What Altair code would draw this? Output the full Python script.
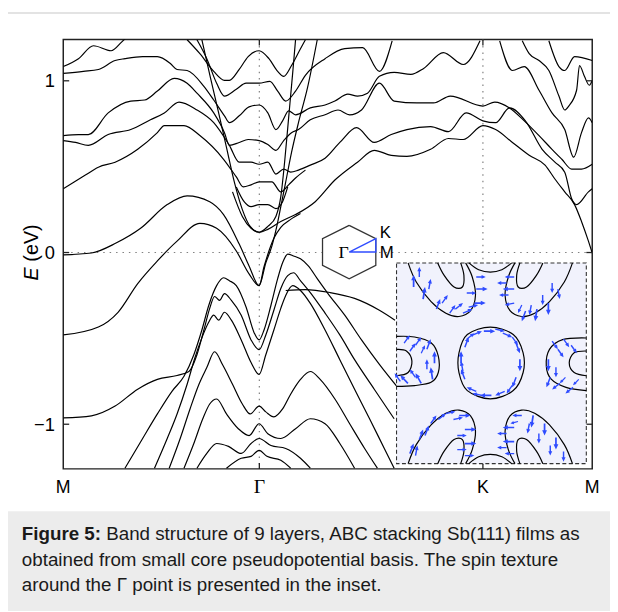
import math
import altair as alt
import pandas as pd

# ---------------- axis content ----------------
K_TICKS = [0.0, 0.877, 1.877, 2.366]          # M, Gamma, K, M along the path (|GK| = 1)
K_NAMES = ["M", "Γ", "K", "M"]
E_TICKS = [-1, 0, 1]
K_DOMAIN = [0.0, 2.366]
E_DOMAIN = [-1.26, 1.24]
DOT_E = [0.0]
DOT_K = [0.877, 1.877]
YLABEL = ["E", "(eV)"]
CAPTION_BOLD = "Figure 5:"
CAPTION_LINES = [
    "Band structure of 9 layers, ABC stacking Sb(111) films as",
    "obtained from small core pseudopotential basis. The spin texture",
    "around the Γ point is presented in the inset.",
]

# ---------------- bands (k, E[eV]) ----------------
BAND_U1 = [(0, 1.083), (0.068, 1.129), (0.135, 1.204), (0.214, 1.175), (0.262, 1.227), (0.307, 1.284)]
BAND_U2 = [(0, 1.043), (0.090, 1.055), (0.157, 1.066), (0.232, 1.118), (0.276, 1.129), (0.355, 1.141),
           (0.421, 1.141), (0.479, 1.101), (0.509, 1.066), (0.554, 1.060), (0.629, 0.968), (0.673, 0.888),
           (0.721, 0.796), (0.743, 0.756), (0.787, 0.796), (0.831, 0.848), (0.876, 0.859), (0.915, 0.813),
           (0.951, 0.716), (0.981, 0.767), (1.008, 0.825), (1.039, 0.802), (1.105, 0.842), (1.171, 0.859),
           (1.215, 0.882), (1.273, 0.922), (1.316, 0.911), (1.361, 0.928), (1.414, 1.026), (1.480, 1.049),
           (1.555, 1.037), (1.612, 1.072), (1.700, 1.164), (1.789, 1.095), (1.864, 1.233)]
BAND_U3 = [(0, 0.681), (0.068, 0.687), (0.112, 0.687), (0.201, 0.813), (0.302, 0.882), (0.364, 0.888),
           (0.421, 0.940), (0.496, 1.014), (0.554, 0.986), (0.598, 0.928), (0.673, 0.813), (0.721, 0.698),
           (0.743, 0.624), (0.787, 0.641), (0.827, 0.658), (0.876, 0.652), (0.915, 0.629), (0.951, 0.595),
           (0.986, 0.652), (1.021, 0.698), (1.052, 0.716), (1.105, 0.773), (1.171, 0.802), (1.229, 0.830),
           (1.281, 0.802), (1.334, 0.830), (1.414, 0.986), (1.480, 0.882), (1.582, 0.871), (1.656, 0.871),
           (1.731, 0.911), (1.877, 0.853), (1.930, 0.876), (1.996, 0.842), (2.062, 0.767), (2.128, 0.681),
           (2.186, 0.601), (2.230, 0.543), (2.274, 0.486), (2.318, 0.486), (2.366, 0.514)]
BAND_U4 = [(0, 0.652), (0.055, 0.641), (0.112, 0.624), (0.201, 0.687), (0.302, 0.716), (0.390, 0.773),
           (0.452, 0.813), (0.518, 0.876), (0.598, 0.830), (0.673, 0.756), (0.743, 0.624), (0.787, 0.526),
           (0.840, 0.526), (0.876, 0.514), (0.915, 0.526), (0.951, 0.457), (0.986, 0.486), (1.017, 0.468),
           (1.052, 0.480), (1.105, 0.509), (1.171, 0.549), (1.237, 0.641), (1.312, 0.727), (1.391, 0.641),
           (1.467, 0.687), (1.537, 0.716), (1.643, 0.733), (1.723, 0.704), (1.802, 0.813), (1.877, 0.767),
           (1.934, 0.756), (1.996, 0.842), (2.067, 0.767), (2.142, 0.601), (2.199, 0.526), (2.243, 0.468),
           (2.274, 0.313), (2.296, 0.279), (2.349, 0.353), (2.366, 0.371)]
BAND_U5 = [(0, 0.371), (0.099, 0.451), (0.157, 0.497), (0.232, 0.526), (0.333, 0.601), (0.421, 0.698),
           (0.452, 0.739), (0.540, 0.739), (0.611, 0.681), (0.717, 0.543), (0.774, 0.440), (0.805, 0.382),
           (0.840, 0.394), (0.876, 0.411), (0.933, 0.411), (0.973, 0.353), (1.008, 0.394), (1.039, 0.434),
           (1.083, 0.480)]
BAND_N1 = [(0.554, 1.239), (0.611, 1.158), (0.673, 1.055), (0.721, 1.003), (0.743, 1.003), (0.787, 1.066),
           (0.827, 1.141), (0.876, 1.175), (0.920, 1.129), (0.959, 1.055), (0.986, 1.026), (1.021, 1.089),
           (1.061, 1.187), (1.083, 1.239)]
BAND_N2 = [(0.598, 1.239), (0.642, 1.129), (0.686, 0.986), (0.721, 0.911), (0.774, 0.951), (0.818, 0.986),
           (0.876, 0.986), (0.924, 0.997), (0.959, 0.940), (0.995, 0.882), (1.039, 0.940), (1.083, 1.032),
           (1.171, 1.129), (1.259, 1.187), (1.339, 1.193), (1.414, 1.055), (1.471, 1.233)]
BAND_N7 = [(0.774, 0.382), (0.809, 0.296), (0.840, 0.267), (0.876, 0.279), (0.915, 0.279), (0.951, 0.256),
           (0.981, 0.296), (1.004, 0.382)]
BAND_VB = [(0.620, 1.239), (0.659, 1.014), (0.695, 0.813), (0.730, 0.612), (0.765, 0.411), (0.801, 0.250),
           (0.836, 0.152), (0.876, 0.118), (0.915, 0.152), (0.951, 0.210), (0.973, 0.325), (0.990, 0.526),
           (1.008, 0.784), (1.026, 1.043), (1.039, 1.239)]
BAND_V2 = [(0.757, 0.353), (0.801, 0.210), (0.840, 0.141), (0.876, 0.118), (0.915, 0.135), (0.973, 0.181),
           (1.039, 0.221), (1.127, 0.296), (1.215, 0.422), (1.316, 0.526), (1.391, 0.595), (1.467, 0.566),
           (1.537, 0.560), (1.643, 0.601), (1.723, 0.664), (1.789, 0.658), (1.877, 0.739), (1.934, 0.716),
           (2.009, 0.641), (2.084, 0.566), (2.155, 0.509), (2.199, 0.428), (2.243, 0.353), (2.287, 0.279),
           (2.318, 0.181), (2.349, 0.066), (2.366, -0.003)]
BAND_LB = [(0, -0.014), (0.126, -0.003), (0.236, 0.055), (0.346, 0.141), (0.465, 0.279), (0.554, 0.330),
           (0.655, 0.296), (0.717, 0.221), (0.787, 0.049), (0.831, -0.078), (0.876, -0.193), (0.898, -0.083),
           (0.920, 0.009), (0.942, 0.083), (0.973, 0.147), (1.017, 0.193), (1.061, 0.227)]
BAND_LC = [(0, -0.480), (0.157, -0.434), (0.245, -0.348), (0.333, -0.181), (0.421, -0.049), (0.509, 0.066),
           (0.611, 0.170), (0.686, 0.141), (0.774, 0.009), (0.831, -0.124), (0.876, -0.193), (0.906, -0.060),
           (0.933, 0.037), (0.955, 0.152), (0.973, 0.267), (0.995, 0.411), (1.021, 0.583), (1.052, 0.756),
           (1.092, 0.957), (1.136, 1.239)]
BAND_KM4 = [(1.952, 1.233), (2.009, 1.060), (2.062, 1.083), (2.128, 0.945), (2.186, 0.813), (2.243, 0.716),
            (2.283, 0.555), (2.318, 0.698), (2.349, 0.784), (2.366, 0.756)]
BAND_KM5 = [(2.053, 1.233), (2.084, 1.158), (2.128, 1.118), (2.172, 1.060), (2.217, 0.911), (2.243, 0.830),
            (2.261, 0.853), (2.296, 0.945), (2.309, 1.089), (2.331, 1.026), (2.353, 0.974), (2.366, 1.003)]
BAND_KM6 = [(2.172, 1.233), (2.217, 1.083), (2.243, 1.060), (2.287, 1.141), (2.366, 1.118)]
BAND_VA1 = [(0.276, -1.256), (0.355, -1.083), (0.421, -0.940), (0.487, -0.807), (0.540, -0.721), (0.584, -0.595),
            (0.620, -0.451), (0.651, -0.307), (0.686, -0.193), (0.717, -0.147), (0.743, -0.164), (0.774, -0.193),
            (0.818, -0.319), (0.854, -0.468), (0.876, -0.509), (0.898, -0.451), (0.929, -0.307), (0.959, -0.152),
            (0.981, -0.060), (1.004, -0.009), (1.030, -0.020), (1.061, -0.037), (1.096, -0.078), (1.136, -0.152),
            (1.184, -0.239), (1.259, -0.365), (1.334, -0.509), (1.414, -0.652), (1.502, -0.796)]
BAND_VA2 = [(0, -0.963), (0.126, -0.951), (0.232, -0.894), (0.333, -0.796), (0.421, -0.739), (0.509, -0.716),
            (0.562, -0.693), (0.598, -0.595), (0.629, -0.451), (0.655, -0.325), (0.677, -0.256), (0.699, -0.279),
            (0.721, -0.239), (0.752, -0.279), (0.796, -0.365), (0.840, -0.509), (0.876, -0.566), (0.906, -0.480),
            (0.942, -0.336), (0.973, -0.210), (1.004, -0.135), (1.030, -0.118), (1.061, -0.164), (1.105, -0.233),
            (1.171, -0.353), (1.237, -0.480), (1.303, -0.624), (1.391, -0.796), (1.480, -0.968)]
BAND_VA3 = [(0.408, -1.256), (0.465, -1.083), (0.509, -0.940), (0.554, -0.767), (0.589, -0.612), (0.620, -0.497),
            (0.651, -0.405), (0.673, -0.365), (0.695, -0.394), (0.721, -0.348), (0.752, -0.394), (0.796, -0.509),
            (0.840, -0.641), (0.876, -0.710), (0.906, -0.595), (0.942, -0.451), (0.973, -0.325), (0.995, -0.250),
            (1.026, -0.193), (1.061, -0.221), (1.105, -0.296), (1.171, -0.451), (1.237, -0.624), (1.303, -0.796),
            (1.370, -0.968), (1.436, -1.141), (1.480, -1.256)]
BAND_VA4 = [(0.474, -1.256), (0.523, -1.083), (0.567, -0.911), (0.607, -0.767), (0.642, -0.670), (0.677, -0.578),
            (0.712, -0.652), (0.757, -0.767), (0.801, -0.882), (0.836, -0.940), (0.876, -0.894), (0.906, -0.928),
            (0.942, -0.957), (0.981, -0.911), (1.017, -0.825), (1.061, -0.739), (1.105, -0.693), (1.149, -0.739),
            (1.215, -0.853), (1.281, -0.997), (1.348, -1.141), (1.405, -1.256)]
BAND_VA5 = [(0.540, -1.256), (0.584, -1.112), (0.624, -0.968), (0.655, -0.882), (0.686, -0.853), (0.730, -0.940),
            (0.783, -1.026), (0.831, -1.066), (0.876, -0.997), (0.915, -1.055), (0.973, -1.083), (1.039, -1.026),
            (1.105, -0.968), (1.171, -0.997), (1.237, -1.112), (1.303, -1.256)]
BAND_VA6 = [(0.598, -1.256), (0.642, -1.170), (0.686, -1.112), (0.739, -1.129), (0.796, -1.170), (0.840, -1.112),
            (0.876, -1.083), (0.929, -1.124), (0.995, -1.141), (1.061, -1.198), (1.105, -1.256)]
BAND_VG1 = [(0.730, -1.256), (0.796, -1.198), (0.840, -1.187), (0.876, -1.152), (0.911, -1.187), (0.973, -1.210),
            (1.017, -1.256)]
BAND_VR = [(0.995, -0.221), (1.083, -0.216), (1.193, -0.233), (1.303, -0.267), (1.414, -0.336), (1.484, -0.394)]

BANDS = {
    "U1": BAND_U1, "U2": BAND_U2, "U3": BAND_U3, "U4": BAND_U4, "U5": BAND_U5,
    "N1": BAND_N1, "N2": BAND_N2, "N7": BAND_N7, "VB": BAND_VB, "V2": BAND_V2,
    "LB": BAND_LB, "LC": BAND_LC, "KM4": BAND_KM4, "KM5": BAND_KM5, "KM6": BAND_KM6,
    "VA1": BAND_VA1, "VA2": BAND_VA2, "VA3": BAND_VA3, "VA4": BAND_VA4, "VA5": BAND_VA5,
    "VA6": BAND_VA6, "VG1": BAND_VG1, "VR": BAND_VR,
}

# ---------------- Brillouin-zone sketch ----------------
HEX_X = [0, 0.866, 0.866, 0, -0.866, -0.866, 0]
HEX_Y = [1, 0.5, -0.5, -1, -0.5, 0.5, 1]
PATH_X = [0, 0.866, 0.866, 0]
PATH_Y = [0, 0.5, 0, 0]
PATH_NAMES = ["Γ", "K", "M"]

# ---------------- spin-texture inset (u, v in [0, 1]) ----------------
C_CENTER = [(0.494, 0.680), (0.615, 0.643), (0.667, 0.552), (0.667, 0.454), (0.615, 0.364),
            (0.494, 0.323), (0.373, 0.364), (0.329, 0.454), (0.329, 0.552), (0.373, 0.643)]
C_L_OUT = [(0, 0.634), (0.095, 0.631), (0.182, 0.602), (0.220, 0.536), (0.220, 0.454), (0.182, 0.405), (0.095, 0.389), (0, 0.385)]
C_L_IN = [(0, 0.569), (0.052, 0.561), (0.081, 0.511), (0.061, 0.454), (0, 0.438)]
C_R_OUT = [(1.0, 0.626), (0.875, 0.618), (0.806, 0.569), (0.789, 0.487), (0.815, 0.421), (0.893, 0.380), (1.0, 0.364)]
C_R_IN = [(1.0, 0.561), (0.936, 0.552), (0.910, 0.503), (0.936, 0.454), (1.0, 0.438)]
C_TL_OUT = [(0.061, 1.0), (0.104, 0.905), (0.182, 0.807), (0.260, 0.749), (0.329, 0.733), (0.390, 0.762), (0.416, 0.839), (0.399, 0.930), (0.364, 1.0)]
C_TL_IN = [(0.217, 1.0), (0.251, 0.938), (0.303, 0.880), (0.347, 0.880), (0.355, 0.938), (0.338, 1.0)]
C_TR_OUT = [(0.927, 1.0), (0.884, 0.905), (0.806, 0.807), (0.728, 0.749), (0.659, 0.733), (0.598, 0.762), (0.572, 0.839), (0.589, 0.930), (0.624, 1.0)]
C_TR_IN = [(0.771, 1.0), (0.737, 0.938), (0.685, 0.880), (0.641, 0.880), (0.633, 0.938), (0.650, 1.0)]
C_BL_OUT = [(0.061, 0), (0.104, 0.095), (0.182, 0.193), (0.260, 0.251), (0.329, 0.267), (0.390, 0.238), (0.416, 0.161), (0.399, 0.070), (0.364, 0)]
C_BL_IN = [(0.217, 0), (0.251, 0.062), (0.303, 0.120), (0.347, 0.120), (0.355, 0.062), (0.338, 0)]
C_BR_OUT = [(0.927, 0), (0.884, 0.095), (0.806, 0.193), (0.728, 0.251), (0.659, 0.267), (0.598, 0.238), (0.572, 0.161), (0.589, 0.070), (0.624, 0)]
C_BR_IN = [(0.771, 0), (0.737, 0.062), (0.685, 0.120), (0.641, 0.120), (0.633, 0.062), (0.650, 0)]
C_TOP = [(0.381, 1.0), (0.433, 0.966), (0.494, 0.954), (0.555, 0.966), (0.607, 1.0)]
C_BOT = [(0.381, 0), (0.433, 0.034), (0.494, 0.046), (0.555, 0.034), (0.607, 0)]
OPEN_CONTOURS = {
    "L_out": C_L_OUT, "L_in": C_L_IN, "R_out": C_R_OUT, "R_in": C_R_IN,
    "TL_out": C_TL_OUT, "TL_in": C_TL_IN, "TR_out": C_TR_OUT, "TR_in": C_TR_IN,
    "BL_out": C_BL_OUT, "BL_in": C_BL_IN, "BR_out": C_BR_OUT, "BR_in": C_BR_IN,
    "top": C_TOP, "bot": C_BOT,
}

# arrows: tail u, tail v, du, dv
ARROWS_CENTER = [(0.46, 0.66, 0.06, 0.00), (0.56, 0.65, 0.05, -0.02), (0.63, 0.60, 0.02, -0.05),
                 (0.65, 0.52, 0.0, -0.06), (0.63, 0.43, -0.02, -0.05), (0.57, 0.36, -0.05, -0.02),
                 (0.50, 0.34, -0.06, 0.0), (0.42, 0.36, -0.05, 0.02), (0.36, 0.42, -0.02, 0.05),
                 (0.34, 0.50, 0.0, 0.06), (0.36, 0.58, 0.02, 0.05), (0.40, 0.64, 0.05, 0.02),
                 (0.52, 0.67, 0.05, -0.01), (0.61, 0.63, 0.03, -0.04), (0.61, 0.39, -0.03, -0.04),
                 (0.45, 0.34, -0.05, 0.01), (0.35, 0.46, -0.01, 0.05), (0.37, 0.62, 0.04, 0.03)]
ARROWS_L = [(0.04, 0.60, 0.03, 0.04), (0.10, 0.59, 0.03, 0.04), (0.16, 0.57, 0.02, 0.05), (0.20, 0.50, 0.0, 0.06),
            (0.19, 0.42, -0.01, 0.06), (0.13, 0.40, -0.03, 0.05), (0.06, 0.40, -0.04, 0.04),
            (0.07, 0.56, 0.03, 0.04), (0.13, 0.55, 0.02, 0.04), (0.16, 0.47, 0.0, 0.05),
            (0.10, 0.43, -0.03, 0.04), (0.02, 0.41, -0.03, 0.04)]
ARROWS_R = [(0.82, 0.61, 0.03, -0.04), (0.88, 0.62, 0.03, -0.04), (0.80, 0.52, 0.0, -0.06),
            (0.81, 0.43, -0.02, -0.05), (0.86, 0.40, -0.04, -0.03), (0.93, 0.38, -0.04, -0.03),
            (0.85, 0.57, 0.03, -0.04), (0.92, 0.59, 0.03, -0.04), (0.84, 0.48, 0.0, -0.05),
            (0.89, 0.43, -0.03, -0.03), (0.96, 0.42, -0.03, -0.03)]
ARROWS_TL = [(0.09, 0.88, 0.0, 0.06), (0.14, 0.82, 0.01, 0.06), (0.21, 0.77, 0.02, 0.05), (0.28, 0.75, 0.03, 0.04),
             (0.35, 0.75, 0.05, 0.02), (0.41, 0.80, 0.06, 0.0), (0.42, 0.87, 0.06, 0.0), (0.42, 0.93, 0.05, 0.0),
             (0.12, 0.93, 0.0, 0.05), (0.17, 0.87, 0.01, 0.05), (0.24, 0.80, 0.03, 0.04),
             (0.31, 0.77, 0.04, 0.03), (0.38, 0.78, 0.05, 0.01), (0.37, 0.85, 0.05, 0.0)]
ARROWS_TR = [(0.62, 0.93, -0.05, 0.0), (0.62, 0.87, -0.06, 0.0), (0.62, 0.80, -0.05, -0.01), (0.68, 0.76, -0.02, -0.05),
             (0.74, 0.77, -0.01, -0.06), (0.80, 0.80, 0.0, -0.06), (0.85, 0.87, 0.01, -0.05),
             (0.58, 0.90, -0.05, 0.0), (0.59, 0.84, -0.05, 0.0), (0.66, 0.79, -0.02, -0.04),
             (0.71, 0.79, -0.01, -0.05), (0.77, 0.84, 0.0, -0.05), (0.82, 0.90, 0.0, -0.05)]
ARROWS_BL = [(0.07, 0.05, 0.02, 0.05), (0.12, 0.12, 0.02, 0.05), (0.18, 0.20, 0.03, 0.04), (0.26, 0.25, 0.05, 0.01),
             (0.33, 0.24, 0.06, 0.0), (0.36, 0.17, 0.06, 0.0), (0.36, 0.10, 0.06, 0.0), (0.36, 0.04, 0.05, 0.0),
             (0.10, 0.04, 0.01, 0.05), (0.15, 0.14, 0.02, 0.05), (0.22, 0.22, 0.04, 0.03),
             (0.30, 0.22, 0.05, 0.01), (0.32, 0.14, 0.05, 0.0), (0.32, 0.07, 0.05, 0.0)]
ARROWS_BR = [(0.62, 0.05, -0.05, 0.0), (0.62, 0.11, -0.06, 0.0), (0.62, 0.18, -0.06, 0.0), (0.66, 0.24, -0.05, 0.0),
             (0.72, 0.24, -0.01, -0.06), (0.78, 0.20, 0.0, -0.06), (0.84, 0.13, 0.0, -0.06), (0.88, 0.06, 0.0, -0.05),
             (0.58, 0.08, -0.05, 0.0), (0.58, 0.15, -0.05, 0.0), (0.64, 0.21, -0.04, -0.01),
             (0.70, 0.20, -0.01, -0.05), (0.75, 0.15, 0.0, -0.05), (0.81, 0.09, 0.0, -0.05)]
ARROWS = ARROWS_CENTER + ARROWS_L + ARROWS_R + ARROWS_TL + ARROWS_TR + ARROWS_BL + ARROWS_BR

# ---------------- layout ----------------
W, H = 536, 435
PAD = {"left": 56, "top": 28, "right": 18, "bottom": 140}
INSET_X = [337.7, 530.0]
INSET_Y = [429.7, 226.3]
HEX_RX = [262.7, 316.7]
HEX_RY = [242.3, 188.3]
BLUE = "#2f4cff"
FONT = "Liberation Sans"
CAP_SIZE = 19

band_rows = []
for name, pts in BANDS.items():
    for i, (k, e) in enumerate(pts):
        band_rows.append({"band": name, "i": i, "k": k, "E": e})
band_df = pd.DataFrame(band_rows)

xsc = alt.Scale(domain=K_DOMAIN, nice=False, zero=False)
ysc = alt.Scale(domain=E_DOMAIN, nice=False, zero=False)
yaxis = alt.Axis(values=E_TICKS, format="d", labelFont=FONT, labelFontSize=18.5, labelColor="black",
                 labelPadding=9, ticks=False, domain=False, grid=False, title="")
X = alt.X("k:Q", scale=xsc, axis=None)
Y = alt.Y("E:Q", scale=ysc, axis=yaxis)

one = pd.DataFrame({"a": [0]})

border = alt.Chart(one).mark_rect(fill="white", fillOpacity=0, stroke="#dadada", strokeWidth=1.5).encode(
    x=alt.value(-57), x2=alt.value(570), y=alt.value(-27), y2=alt.value(590))
cap_bg = alt.Chart(one).mark_rect(color="#ececec").encode(
    x=alt.value(-56), x2=alt.value(570), y=alt.value(478), y2=alt.value(590))
cap_bold = alt.Chart(pd.DataFrame({"t": [CAPTION_BOLD]})).mark_text(
    font=FONT, fontSize=CAP_SIZE, fontWeight="bold", align="left", baseline="alphabetic", color="#1a1a1a").encode(
    x=alt.value(-42), y=alt.value(507), text="t:N")
cap_df = pd.DataFrame({"t": CAPTION_LINES, "xpos": [43.5, -42, -42], "ypos": [507, 533, 559]})
cap_text = alt.Chart(cap_df).mark_text(
    font=FONT, fontSize=CAP_SIZE, align="left", baseline="alphabetic", color="#1a1a1a").encode(
    x=alt.X("xpos:Q", scale=None), y=alt.Y("ypos:Q", scale=None), text="t:N")

hdot = alt.Chart(pd.DataFrame({"E": DOT_E})).mark_rule(color="#808080", strokeWidth=1.2, strokeDash=[1.5, 5]).encode(y=Y)
vdot = alt.Chart(pd.DataFrame({"k": DOT_K})).mark_rule(color="#808080", strokeWidth=1.2, strokeDash=[1.5, 5]).encode(x=X)

bands = alt.Chart(band_df).mark_line(color="black", strokeWidth=1.2, interpolate="monotone", clip=True).encode(
    x=X, y=Y, detail="band:N", order="i:Q")

tick_df = pd.DataFrame({"E": E_TICKS})
lt = alt.Chart(tick_df).mark_rule(color="#222", strokeWidth=1.3).encode(y=Y, x=alt.value(0), x2=alt.value(6))
rt = alt.Chart(tick_df).mark_rule(color="#222", strokeWidth=1.3).encode(y=Y, x=alt.value(W - 6), x2=alt.value(W))
kt_df = pd.DataFrame({"k": DOT_K})
bt = alt.Chart(kt_df).mark_rule(color="#222", strokeWidth=1.3).encode(x=X, y=alt.value(H - 6), y2=alt.value(H))
tt = alt.Chart(kt_df).mark_rule(color="#222", strokeWidth=1.3).encode(x=X, y=alt.value(0), y2=alt.value(6))

lab_df = pd.DataFrame({"k": K_TICKS, "name": K_NAMES})
xl_sans = alt.Chart(lab_df).transform_filter(alt.datum.name != "Γ").mark_text(
    font=FONT, fontSize=18, baseline="middle", color="black").encode(x=X, y=alt.value(454), text="name:N")
xl_serif = alt.Chart(lab_df).transform_filter(alt.datum.name == "Γ").mark_text(
    font="Liberation Serif", fontSize=20, baseline="middle", color="black").encode(x=X, y=alt.value(453), text="name:N")

ye = alt.Chart(pd.DataFrame({"t": [YLABEL[0]]})).mark_text(
    font=FONT, fontSize=20, fontStyle="italic", angle=270, align="left", baseline="middle", color="black").encode(
    x=alt.value(-32), y=alt.value(244), text="t:N")
yev = alt.Chart(pd.DataFrame({"t": [YLABEL[1]]})).mark_text(
    font=FONT, fontSize=20, angle=270, align="left", baseline="middle", color="black").encode(
    x=alt.value(-32), y=alt.value(225), text="t:N")

main = alt.layer(border, cap_bg, cap_bold, cap_text, hdot, vdot, bands, lt, rt, bt, tt,
                 xl_sans, xl_serif, ye, yev)

# ---- hexagon sketch ----
hx = alt.Scale(domain=[-0.866, 0.866], range=HEX_RX, nice=False, zero=False)
hy = alt.Scale(domain=[-1, 1], range=HEX_RY, nice=False, zero=False)
HXE = alt.X("x:Q", scale=hx, axis=None)
HYE = alt.Y("y:Q", scale=hy, axis=None)
hex_df = pd.DataFrame({"x": HEX_X, "y": HEX_Y, "i": range(len(HEX_X))})
fill_df = pd.DataFrame({"x": [HEX_X[4], HEX_X[0], HEX_X[1]],
                        "top": [HEX_Y[5], HEX_Y[0], HEX_Y[1]],
                        "bot": [HEX_Y[4], HEX_Y[3], HEX_Y[2]]})
path_df = pd.DataFrame({"x": PATH_X, "y": PATH_Y, "i": range(len(PATH_X))})
hex_fill = alt.Chart(fill_df).mark_area(color="white", interpolate="linear").encode(
    x=HXE, y=alt.Y("top:Q", scale=hy, axis=None), y2="bot:Q")
hex_line = alt.Chart(hex_df).mark_line(color="#333", strokeWidth=1.3).encode(x=HXE, y=HYE, order="i:Q")
path_line = alt.Chart(path_df).mark_line(color=BLUE, strokeWidth=1.4).encode(x=HXE, y=HYE, order="i:Q")
hl_df = pd.DataFrame({"x": PATH_X[:3], "y": PATH_Y[:3], "name": PATH_NAMES})
g_lab = alt.Chart(hl_df).transform_filter(alt.datum.name == "Γ").mark_text(
    font="Liberation Serif", fontSize=18, align="right", baseline="middle", dx=-0.5, dy=1, color="black").encode(
    x=HXE, y=HYE, text="name:N")
k_lab = alt.Chart(hl_df).transform_filter(alt.datum.name == "K").mark_text(
    font=FONT, fontSize=17, align="left", baseline="middle", dx=4, dy=-6, color="black").encode(
    x=HXE, y=HYE, text="name:N")
m_lab = alt.Chart(hl_df).transform_filter(alt.datum.name == "M").mark_text(
    font=FONT, fontSize=17, align="left", baseline="middle", dx=4, dy=1, color="black").encode(
    x=HXE, y=HYE, text="name:N")
hexl = alt.layer(hex_fill, hex_line, path_line, g_lab, k_lab, m_lab)

# ---- spin texture inset ----
iu = alt.Scale(domain=[0, 1], range=INSET_X, nice=False, zero=False)
iv = alt.Scale(domain=[0, 1], range=INSET_Y, nice=False, zero=False)
IW, IH = INSET_X[1] - INSET_X[0], INSET_Y[0] - INSET_Y[1]
bg = alt.Chart(pd.DataFrame({"u0": [0], "u1": [1], "v0": [0], "v1": [1]})).mark_rect(
    fill="#f1f2fc", stroke="#333", strokeDash=[4, 2.5], strokeWidth=1.1).encode(
    x=alt.X("u0:Q", scale=iu, axis=None), x2="u1:Q", y=alt.Y("v0:Q", scale=iv, axis=None), y2="v1:Q")
crow = []
for name, pts in OPEN_CONTOURS.items():
    for i, (u, v) in enumerate(pts):
        crow.append({"c": name, "i": i, "u": u, "v": v})
cont = alt.Chart(pd.DataFrame(crow)).mark_line(color="black", strokeWidth=1.2, interpolate="cardinal").encode(
    x=alt.X("u:Q", scale=iu, axis=None), y=alt.Y("v:Q", scale=iv, axis=None), detail="c:N", order="i:Q")
cen_df = pd.DataFrame({"u": [p[0] for p in C_CENTER], "v": [p[1] for p in C_CENTER], "i": range(len(C_CENTER))})
cen = alt.Chart(cen_df).mark_line(color="black", strokeWidth=1.2, interpolate="cardinal-closed").encode(
    x=alt.X("u:Q", scale=iu, axis=None), y=alt.Y("v:Q", scale=iv, axis=None), order="i:Q")
arows = []
for (u, v, du, dv) in ARROWS:
    dx, dy = du * IW, dv * IH
    L = math.hypot(dx, dy)
    arows.append({"cu": u + du / 2, "cv": v + dv / 2,
                  "ang": math.degrees(math.atan2(dx, dy)) % 360, "sz": L * L})
arr = alt.Chart(pd.DataFrame(arows)).mark_point(shape="arrow", filled=True, color=BLUE, opacity=1).encode(
    x=alt.X("cu:Q", scale=iu, axis=None), y=alt.Y("cv:Q", scale=iv, axis=None),
    angle=alt.Angle("ang:Q", scale=None), size=alt.Size("sz:Q", scale=None))
inset = alt.layer(bg, cont, cen, arr)

chart = alt.layer(main, hexl, inset).resolve_scale(x="independent", y="independent").properties(
    width=W, height=H, padding=PAD, autosize=alt.AutoSizeParams(type="none"), background="white"
).configure_view(stroke="#222", strokeWidth=1.5)

chart.save("out.html", embed_options={"renderer": "svg", "actions": False})
